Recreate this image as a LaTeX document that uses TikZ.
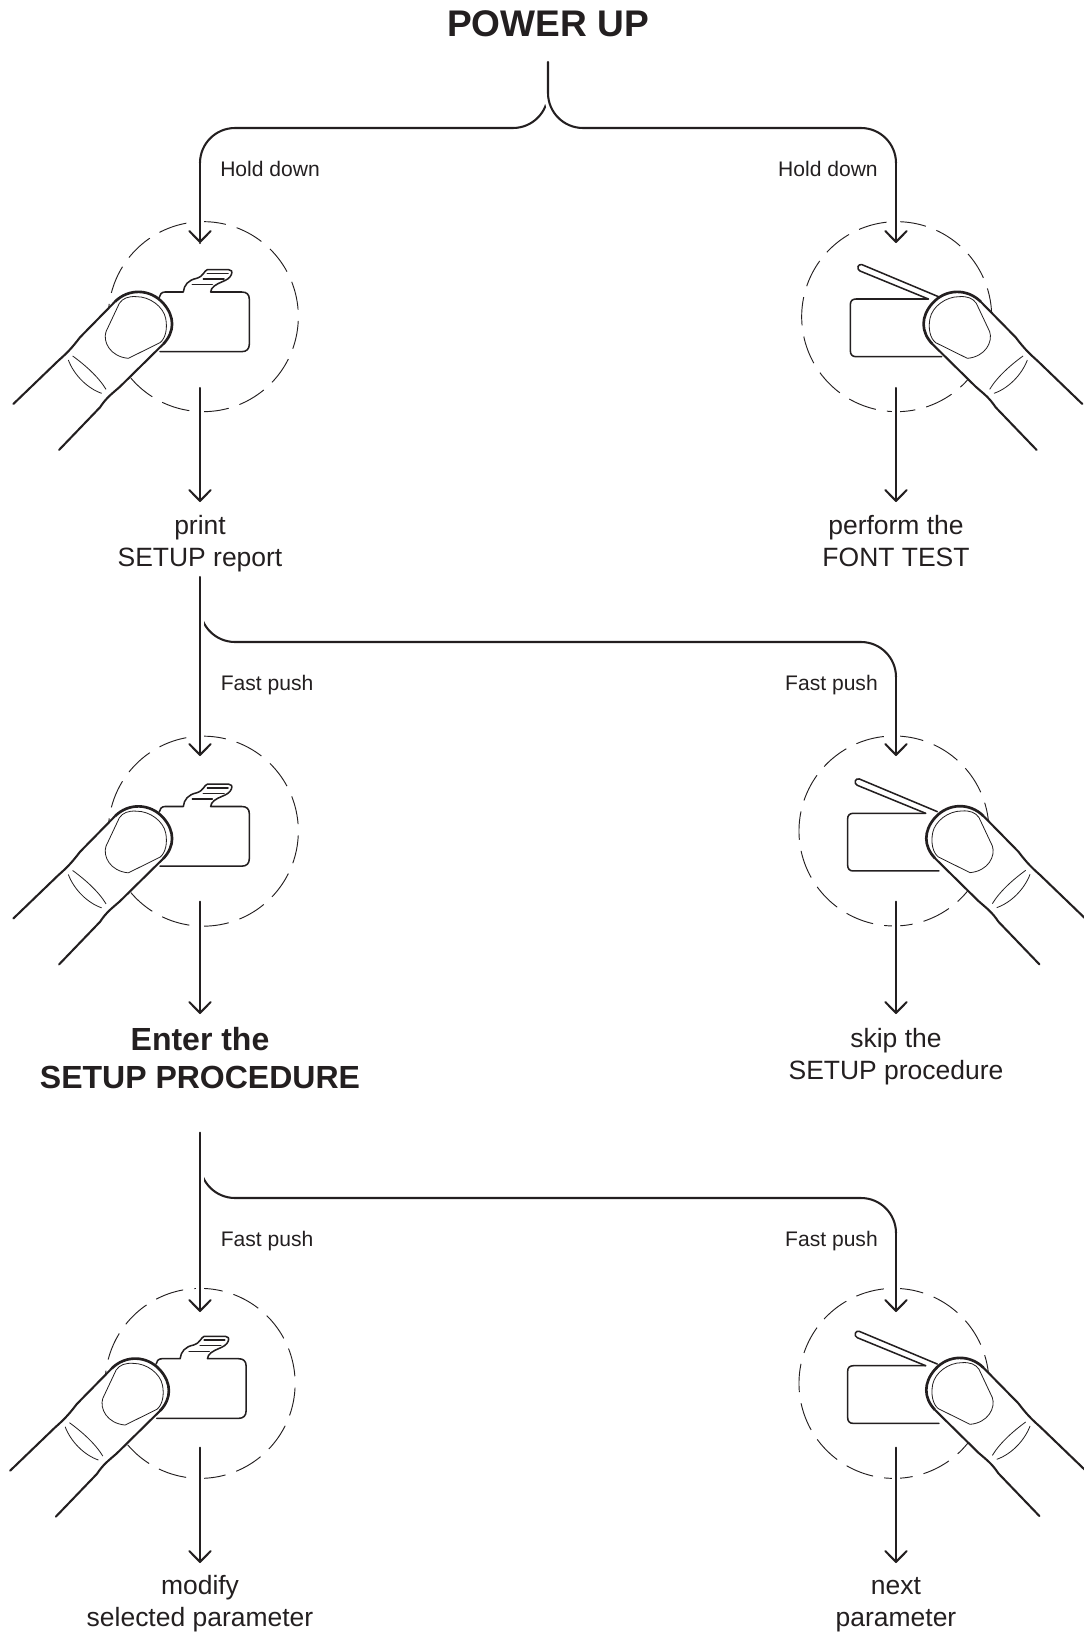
\documentclass[tikz,border=0pt]{standalone}
\usepackage{fontspec}
\setmainfont{Liberation Sans}
\usetikzlibrary{arrows.meta}
\definecolor{ink}{HTML}{231F20}
\tikzset{
  every path/.style={line join=round},
  x=.75pt,y=-.75pt,
  wire/.style={draw=ink,line width=1.55pt,line cap=round},
  halo/.style={preaction={draw=white,line width=6.5pt,line cap=butt,arrows=-}},
  arrowline/.style={wire,halo,-{Straight Barb[length=8.2pt,width=16pt,line width=1.55pt,round]}},
  thickline/.style={draw=ink,line width=1.55pt,line cap=round},
  tipline/.style={draw=ink,line width=2pt},
  bodyline/.style={draw=ink,line width=1.15pt,line cap=round},
  thinline/.style={draw=ink,line width=.6pt},
  ringline/.style={draw=ink,line width=.7pt},
  title/.style={font=\fontsize{27.8}{33}\selectfont\bfseries,text=ink,inner sep=0pt},
  bigtext/.style={font=\fontsize{24}{29}\selectfont\bfseries,text=ink,inner sep=0pt,align=center},
  result/.style={font=\fontsize{19.85}{24.2}\selectfont,text=ink,inner sep=0pt,align=center},
  hint/.style={font=\fontsize{15.8}{19}\selectfont,text=ink,inner sep=0pt},
}
% dashed ring: centre (#1,#2) in zoom units, first dash at angle #3
\newcommand{\dashring}[3]{%
  \foreach \i in {0,...,14}{%
    \pgfmathsetmacro{\aS}{#3-24*\i}\pgfmathsetmacro{\aE}{\aS-17.2}%
    \draw[ringline] plot[domain=\aS:\aE,samples=10,smooth] ({#1+285*cos(\x)},{#2-285*sin(\x)});
  }}
\newcommand{\fingershape}{%
  \path[fill=white] (40,612) -- (175,482) .. controls (200,460) and (215,445) .. (240,412) -- (345,305)
    .. controls (385,265) and (450,265) .. (490,310) .. controls (525,350) and (525,395) .. (490,432)
    -- (360,560) .. controls (335,582) and (320,592) .. (300,622) -- (177,750) -- cycle;
  \draw[thickline] (40,612) -- (175,482) .. controls (200,460) and (215,445) .. (240,412) -- (345,305)
    (490,432) -- (360,560) .. controls (335,582) and (320,592) .. (300,622) -- (177,750);
  \draw[tipline] (345,305) .. controls (385,265) and (450,265) .. (490,310) .. controls (525,350) and (525,395) .. (490,432);
  \draw[thinline] (385,475) -- (480,428) .. controls (497,415) and (503,385) .. (497,355)
    .. controls (490,320) and (450,290) .. (410,290) .. controls (385,288) and (368,295) .. (358,310)
    -- (318,395) .. controls (308,425) and (330,470) .. (385,475) -- cycle;
  \draw[thinline] (205,480) .. controls (222,525) and (262,565) .. (305,580);
  \draw[thinline] (218,468) .. controls (255,495) and (295,530) .. (318,568);
}
% left icon: shift X,Y
\newcommand{\cardicon}[2]{%
  \begin{scope}[shift={(#1,#2)},x=.25pt,y=-.25pt]
    \dashring{610}{350}{69.5}
    \draw[bodyline] (480,455) -- (725,455) .. controls (740,455) and (748,447) .. (748,432)
      -- (748,298) .. controls (748,283) and (740,276) .. (725,276) -- (632,276)
      .. controls (632,262) and (650,252) .. (665,246) .. controls (680,240) and (690,234) .. (694,224)
      .. controls (698,214) and (694,209) .. (686,209) -- (622,209)
      .. controls (612,212) and (612,228) .. (590,235) .. controls (565,240) and (552,255) .. (550,276)
      -- (495,276) .. controls (485,276) and (478,284) .. (478,292);
    \draw[bodyline] (622,220) -- (684,220) (610,237) -- (672,237) (577,254) -- (637,254);
    \fingershape
  \end{scope}}
% right icon: shift X,Y of body; finger x-offset #3, finger Y #4
\newcommand{\papericon}[4]{%
  \begin{scope}[shift={(#1,#2)},x=.25pt,y=-.25pt]
    \dashring{410}{350}{65.3}
    \draw[bodyline] (505,297) -- (288,297) .. controls (277,297) and (271,303) .. (271,314)
      -- (271,452) .. controls (271,464) and (277,470) .. (288,470) -- (545,470);
    \draw[bodyline] (505,297) -- (300,213) .. controls (288,207) and (294,190) .. (306,194) -- (540,292);
  \end{scope}
  \begin{scope}[shift={(#3+1007/3,#4)},x=-.25pt,y=-.25pt]
    \fingershape
  \end{scope}}
\begin{document}
\begin{tikzpicture}
\useasboundingbox (0,0) rectangle (1083,1634);
% icons
\cardicon{0}{200}
\cardicon{0}{714.5}
\cardicon{-3.2}{1266.7}
\papericon{760}{200}{760}{200}
\papericon{757.3}{714.3}{762.7}{714.3}
\papericon{757.3}{1266.7}{762.7}{1266}
% texts
\node[title] (power) at (548,23.5) {POWER UP};
\node[hint,anchor=base west] (holdL) at (220,176) {Hold down};
\node[hint,anchor=base east] (holdR) at (878,176) {Hold down};
\node[result] (print) at (200,543.5) {print\\SETUP report};
\node[result] (font) at (896,541) {perform the\\FONT TEST};
\node[hint,anchor=base west] (fastL) at (220.5,690) {Fast push};
\node[hint,anchor=base east] (fastR) at (878,690) {Fast push};
\node[bigtext] (enter) at (200,1058) {Enter the\\SETUP PROCEDURE};
\node[result] (skip) at (896,1057) {skip the\\SETUP procedure};
\node[hint,anchor=base west] (fastLb) at (220.5,1246) {Fast push};
\node[hint,anchor=base east] (fastRb) at (878,1246) {Fast push};
\node[result] (modify) at (200,1604) {modify\\selected parameter};
\node[result] (next) at (896,1605) {next\\parameter};
% named connector ends
\coordinate (t0) at (548,62);
\coordinate (t1) at (548,93);
\coordinate (tL) at (200,243);
\coordinate (tR) at (896,243);
\coordinate (a1s) at (200,388);
\coordinate (a1e) at (200,502);
\coordinate (b1s) at (896,388);
\coordinate (b1e) at (896,502);
\coordinate (s2) at (200,577);
\coordinate (s2j) at (200,607);
\coordinate (tL2) at (200,756);
\coordinate (tR2) at (896,756);
\coordinate (a2s) at (200,901.7);
\coordinate (a2e) at (200,1014);
\coordinate (b2s) at (896,901.7);
\coordinate (b2e) at (896,1014);
\coordinate (s3) at (200,1132.7);
\coordinate (s3j) at (200,1163);
\coordinate (tL3) at (200,1312);
\coordinate (tR3) at (896,1312);
\coordinate (a3s) at (200,1447.7);
\coordinate (a3e) at (200,1563);
\coordinate (b3s) at (896,1447.7);
\coordinate (b3e) at (896,1563);
% power-up fork
\draw[wire] (t1) .. controls (548,112.3) and (532.3,128) .. (513,128) -- (235,128)
  .. controls (215.7,128) and (200,143.7) .. (200,163) -- (tL);
\draw[arrowline] (200,163) -- (tL);
\draw[wire,halo] (t0) -- (t1) .. controls (548,112.3) and (563.7,128) .. (583,128) -- (861,128)
  .. controls (880.3,128) and (896,143.7) .. (896,163);
\draw[arrowline] (896,163) -- (tR);
% report arrows
\draw[arrowline] (a1s) -- (a1e);
\draw[arrowline] (b1s) -- (b1e);
% second fork
\draw[wire] (s2j) .. controls (200,626.3) and (215.7,642) .. (235,642) -- (861,642)
  .. controls (880.3,642) and (896,657.7) .. (896,677);
\draw[arrowline] (s2) -- (tL2);
\draw[arrowline] (896,677) -- (tR2);
\draw[arrowline] (a2s) -- (a2e);
\draw[arrowline] (b2s) -- (b2e);
% third fork
\draw[wire] (s3j) .. controls (200,1182.3) and (215.7,1198) .. (235,1198) -- (861,1198)
  .. controls (880.3,1198) and (896,1213.7) .. (896,1233);
\draw[arrowline] (s3) -- (tL3);
\draw[arrowline] (896,1233) -- (tR3);
\draw[arrowline] (a3s) -- (a3e);
\draw[arrowline] (b3s) -- (b3e);
\end{tikzpicture}
\end{document}
